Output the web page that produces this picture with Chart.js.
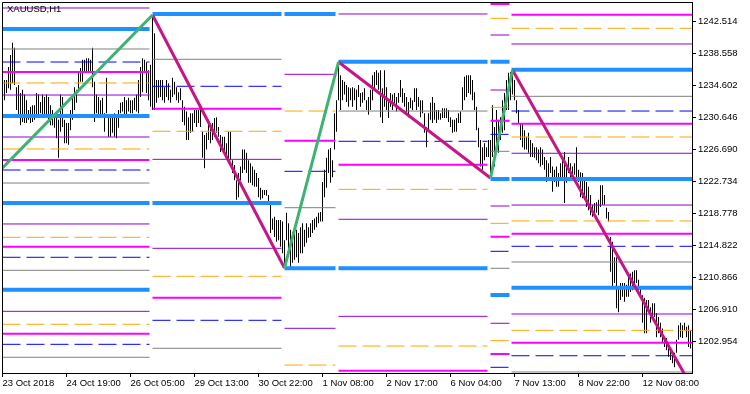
<!DOCTYPE html>
<html>
<head>
<meta charset="utf-8">
<script src="https://cdn.jsdelivr.net/npm/chart.js@4/dist/chart.umd.min.js"></script>
<style>
  html, body { margin: 0; padding: 0; background: #fff; }
</style>
</head>
<body>
<canvas id="chart" width="750" height="394"></canvas>
<script>
const symbol = "XAUUSD,H1";

// time axis: one H1 bar per index, a label every 32 bars
const tickIdx = [0, 32, 64, 96, 128, 160, 192, 224, 256, 288, 320];
const tickLabels = ["23 Oct 2018", "24 Oct 19:00", "26 Oct 05:00", "29 Oct 13:00", "30 Oct 22:00",
  "1 Nov 08:00", "2 Nov 17:00", "6 Nov 04:00", "7 Nov 13:00", "8 Nov 22:00", "12 Nov 08:00"];
const priceTicks = [1202.954, 1206.910, 1210.866, 1214.822, 1218.778, 1222.734,
  1226.690, 1230.646, 1234.602, 1238.558, 1242.514];

// bar highs / lows
const highs = [
  1234.9, 1235.3, 1235.3, 1236.9, 1238.4, 1239.9, 1239.3, 1234.4, 1234.7, 1233.7,
  1234.1, 1233.5, 1232.8, 1231.6, 1232.0, 1232.2, 1232.2, 1233.7, 1233.5, 1232.6,
  1233.5, 1233.2, 1233.5, 1233.2, 1232.2, 1231.6, 1231.2, 1230.7, 1230.4, 1233.5,
  1233.2, 1230.4, 1230.0, 1230.0, 1231.6, 1233.2, 1234.4, 1234.1, 1236.2, 1236.8,
  1237.8, 1237.8, 1238.0, 1238.0, 1237.8, 1239.3, 1235.1, 1233.5, 1233.2, 1232.8,
  1233.1, 1231.2, 1235.6, 1231.0, 1230.7, 1231.0, 1231.2, 1231.0, 1231.6, 1232.5,
  1232.6, 1233.2, 1232.8, 1233.1, 1232.8, 1232.8, 1233.1, 1233.5, 1235.3, 1236.9,
  1238.0, 1237.8, 1237.5, 1236.5, 1237.2, 1243.3, 1241.1, 1235.3, 1235.3, 1235.3,
  1235.3, 1234.4, 1235.3, 1234.9, 1234.1, 1235.6, 1235.1, 1234.4, 1233.8, 1234.3,
  1232.8, 1232.0, 1231.4, 1230.7, 1231.2, 1231.2, 1231.6, 1231.6, 1231.6, 1232.0,
  1228.9, 1228.5, 1228.8, 1230.4, 1229.5, 1230.0, 1230.6, 1230.7, 1229.5, 1228.5,
  1228.3, 1228.3, 1227.5, 1228.9, 1228.9, 1225.4, 1224.8, 1222.9, 1223.8, 1224.6,
  1226.7, 1226.7, 1226.3, 1225.4, 1225.0, 1224.6, 1224.2, 1223.8, 1223.2, 1222.0,
  1221.7, 1221.7, 1221.7, 1221.1, 1219.9, 1218.2, 1218.4, 1218.0, 1218.0, 1218.0,
  1217.8, 1215.5, 1218.9, 1217.6, 1216.8, 1216.5, 1217.0, 1216.8, 1216.4, 1217.1,
  1217.6, 1216.8, 1217.6, 1217.1, 1217.6, 1218.0, 1218.2, 1218.4, 1218.9, 1219.0,
  1222.7, 1224.2, 1225.7, 1226.7, 1226.9, 1225.4, 1231.2, 1232.8, 1237.5, 1235.9,
  1235.3, 1235.1, 1234.7, 1234.4, 1234.3, 1234.4, 1234.3, 1234.1, 1234.7, 1233.7,
  1233.8, 1234.3, 1232.8, 1233.2, 1234.1, 1235.9, 1236.3, 1236.5, 1236.2, 1236.5,
  1234.3, 1236.5, 1234.4, 1232.6, 1233.7, 1233.5, 1233.7, 1233.2, 1233.7, 1235.3,
  1234.3, 1233.7, 1233.2, 1232.6, 1233.1, 1232.8, 1234.3, 1234.3, 1233.2, 1232.8,
  1232.8, 1231.2, 1229.5, 1231.2, 1232.5, 1233.2, 1232.5, 1231.6, 1231.6, 1231.2,
  1231.8, 1231.8, 1231.8, 1231.6, 1230.7, 1230.4, 1230.4, 1230.6, 1231.2, 1231.4,
  1234.4, 1235.7, 1235.9, 1235.9, 1235.9, 1235.3, 1233.8, 1232.0, 1229.4, 1227.9,
  1227.0, 1227.5, 1227.0, 1227.9, 1227.9, 1232.2, 1229.5, 1231.6, 1230.4, 1230.7,
  1232.8, 1233.7, 1235.3, 1236.2, 1236.3, 1236.5, 1235.3, 1232.8, 1231.6, 1230.0,
  1230.0, 1229.1, 1228.3, 1228.8, 1227.9, 1227.5, 1227.0, 1227.0, 1226.7, 1227.0,
  1226.7, 1225.8, 1225.4, 1225.0, 1225.8, 1224.6, 1224.2, 1224.6, 1223.8, 1225.0,
  1225.4, 1226.4, 1225.0, 1225.8, 1225.0, 1224.6, 1225.0, 1227.0, 1224.2, 1223.9,
  1223.8, 1223.3, 1222.7, 1222.1, 1221.1, 1219.9, 1220.1, 1220.2, 1220.5, 1222.3,
  1222.3, 1221.1, 1219.5, 1219.0, 1215.9, 1215.3, 1213.4, 1213.4, 1209.7, 1210.2,
  1210.2, 1210.2, 1210.0, 1211.4, 1211.4, 1211.6, 1211.8, 1211.8, 1210.6, 1209.7,
  1208.7, 1208.4, 1208.1, 1208.1, 1207.2, 1207.7, 1207.7, 1206.5, 1206.0, 1205.3,
  1204.6, 1203.5, 1203.4, 1202.8, 1201.9, 1201.6, 1201.6, 1203.2, 1205.0, 1205.3,
  1205.0, 1205.3, 1204.8, 1205.0, 1204.4
];
const lows = [
  1232.0, 1232.8, 1233.7, 1234.3, 1234.1, 1234.9, 1234.7, 1231.6, 1231.0, 1229.7,
  1230.1, 1230.0, 1230.0, 1230.4, 1230.0, 1230.1, 1230.4, 1231.0, 1231.0, 1231.2,
  1231.0, 1231.0, 1231.0, 1230.0, 1229.7, 1229.7, 1229.4, 1228.1, 1225.7, 1228.9,
  1229.5, 1227.5, 1227.5, 1227.3, 1229.1, 1230.4, 1231.6, 1232.5, 1233.8, 1235.1,
  1235.1, 1236.3, 1236.3, 1236.2, 1236.3, 1234.4, 1230.1, 1231.2, 1230.7, 1231.0,
  1230.7, 1228.9, 1231.2, 1228.3, 1228.3, 1228.8, 1228.3, 1228.1, 1229.4, 1231.2,
  1231.4, 1230.7, 1231.0, 1231.4, 1231.2, 1231.2, 1231.6, 1231.4, 1231.2, 1233.2,
  1233.8, 1236.3, 1233.7, 1232.8, 1232.0, 1231.6, 1231.6, 1232.5, 1233.1, 1233.2,
  1232.8, 1232.5, 1233.2, 1232.8, 1232.5, 1233.2, 1233.5, 1232.8, 1232.5, 1232.8,
  1230.1, 1229.7, 1227.9, 1227.9, 1228.8, 1228.9, 1230.0, 1229.5, 1230.0, 1229.5,
  1225.7, 1224.4, 1226.7, 1227.9, 1227.5, 1227.9, 1228.3, 1228.8, 1228.3, 1226.4,
  1227.0, 1226.3, 1225.8, 1225.4, 1225.4, 1223.8, 1222.9, 1220.5, 1220.8, 1222.9,
  1223.8, 1224.2, 1223.8, 1222.6, 1222.6, 1222.3, 1222.1, 1222.1, 1220.8, 1220.5,
  1220.7, 1221.1, 1221.0, 1219.9, 1216.4, 1216.8, 1215.9, 1215.3, 1215.5, 1214.7,
  1213.9, 1212.1, 1215.5, 1214.0, 1212.2, 1212.7, 1213.1, 1213.4, 1212.7, 1213.9,
  1213.9, 1214.7, 1215.2, 1215.8, 1215.9, 1216.4, 1216.8, 1217.1, 1217.6, 1217.8,
  1217.8, 1220.8, 1222.0, 1223.8, 1222.6, 1223.3, 1226.7, 1228.9, 1232.8, 1231.6,
  1232.8, 1233.5, 1232.6, 1232.0, 1232.8, 1232.0, 1232.8, 1231.6, 1233.2, 1232.0,
  1232.5, 1232.8, 1231.6, 1231.0, 1231.6, 1232.8, 1234.1, 1234.7, 1234.1, 1230.7,
  1230.0, 1232.0, 1231.6, 1230.6, 1232.0, 1231.6, 1232.2, 1231.4, 1232.5, 1233.2,
  1232.5, 1232.0, 1231.2, 1230.7, 1231.8, 1231.6, 1232.6, 1231.6, 1232.0, 1230.7,
  1231.2, 1228.8, 1227.0, 1229.1, 1230.4, 1230.0, 1230.4, 1230.0, 1230.4, 1230.4,
  1230.6, 1230.6, 1230.6, 1230.1, 1229.5, 1228.8, 1228.9, 1228.9, 1230.0, 1230.0,
  1231.6, 1232.8, 1233.2, 1233.7, 1233.5, 1232.8, 1231.6, 1229.1, 1227.0, 1224.6,
  1224.2, 1225.4, 1225.8, 1225.8, 1223.2, 1225.8, 1224.6, 1227.0, 1226.3, 1227.9,
  1228.8, 1229.1, 1231.6, 1231.6, 1232.8, 1233.5, 1232.8, 1231.2, 1230.0, 1227.9,
  1227.0, 1226.7, 1226.7, 1226.3, 1225.8, 1225.8, 1225.7, 1225.4, 1225.0, 1224.6,
  1224.8, 1224.2, 1222.7, 1223.3, 1223.8, 1221.5, 1222.7, 1222.1, 1222.1, 1222.9,
  1223.3, 1220.1, 1222.6, 1223.8, 1223.3, 1222.9, 1223.6, 1223.2, 1222.7, 1220.8,
  1220.7, 1220.5, 1219.6, 1219.2, 1218.6, 1218.4, 1218.6, 1218.9, 1218.6, 1219.6,
  1219.9, 1219.9, 1218.2, 1217.8, 1211.6, 1209.7, 1210.2, 1207.1, 1206.6, 1208.1,
  1208.5, 1207.9, 1208.5, 1208.5, 1209.1, 1209.3, 1209.7, 1210.2, 1209.3, 1208.5,
  1205.3, 1204.0, 1204.0, 1206.5, 1205.3, 1206.0, 1206.0, 1203.5, 1204.0, 1203.5,
  1202.8, 1202.3, 1201.9, 1201.1, 1200.7, 1200.3, 1199.8, 1201.6, 1203.2, 1203.5,
  1203.4, 1204.4, 1203.5, 1202.3, 1202.1
];

// zigzag turning points (bar index, price)
const zzIdx = [0, 75, 141, 168, 244, 255, 345];
const zzPrice = [1224.43, 1243.34, 1212.07, 1237.53, 1223.19, 1236.54, 1197.2];

// level blocks: each zigzag leg draws its own set of levels
const segStart = [0, 75, 141, 168, 244, 254.5];
const segEnd = [73.5, 139.5, 166.5, 242.5, 253.5, 345];

// [block, price]
const blueLevels = [
  [0, 1241.61], [0, 1230.86], [0, 1220.10], [0, 1209.38],
  [1, 1243.47], [1, 1220.10],
  [2, 1243.47], [2, 1212.03],
  [3, 1237.57], [3, 1212.03],
  [4, 1237.57], [4, 1223.07], [4, 1208.73],
  [5, 1236.58], [5, 1223.07], [5, 1209.63]
];
const violetLevels = [
  [0, 1244.21], [0, 1233.45], [0, 1228.26], [0, 1217.51], [0, 1206.71],
  [1, 1225.50], [1, 1214.50],
  [2, 1236.01], [2, 1204.61],
  [3, 1243.47], [3, 1218.09], [3, 1206.09],
  [4, 1240.87], [4, 1234.07], [4, 1219.73], [4, 1205.23],
  [5, 1239.76], [5, 1226.25], [5, 1219.85], [5, 1206.38]
];
const orangeLevels = [
  [0, 1234.94], [0, 1226.78], [0, 1215.86], [0, 1205.11],
  [1, 1228.97], [1, 1211.04],
  [2, 1231.47], [2, 1200.07],
  [3, 1221.79], [3, 1202.42],
  [4, 1242.93], [4, 1231.93], [4, 1217.59], [4, 1203.08],
  [5, 1241.70], [5, 1228.26], [5, 1217.88], [5, 1204.36]
];
const magentaLevels = [
  [0, 1236.30], [0, 1225.42], [0, 1214.70], [0, 1203.94],
  [1, 1231.76], [1, 1208.39],
  [2, 1227.80],
  [3, 1224.84], [3, 1199.37],
  [4, 1244.70], [4, 1230.28], [4, 1215.93], [4, 1201.43],
  [5, 1243.38], [5, 1229.90], [5, 1216.31], [5, 1202.83]
];
const navyLevels = [
  [0, 1237.53], [0, 1224.18], [0, 1213.39], [0, 1202.63],
  [1, 1234.53], [1, 1205.60],
  [2, 1224.02],
  [3, 1227.73],
  [4, 1228.59], [4, 1214.13], [4, 1199.79],
  [5, 1231.47], [5, 1214.75], [5, 1201.22]
];
const grayLevels = [
  [0, 1239.14], [0, 1222.57], [0, 1211.78], [0, 1201.03],
  [1, 1237.87], [1, 1202.14],
  [2, 1219.52],
  [3, 1231.47],
  [4, 1226.49], [4, 1212.03],
  [5, 1233.29], [5, 1212.81], [5, 1199.21]
];

function levelData(levels) {
  const pts = [];
  levels.forEach(([s, p]) => {
    pts.push({ x: segStart[s], y: p }, { x: segEnd[s], y: p }, { x: segEnd[s], y: null });
  });
  return pts;
}

function legData(from) {
  const pts = [];
  for (let k = from; k < zzIdx.length - 1; k += 2) {
    pts.push({ x: zzIdx[k], y: zzPrice[k] }, { x: zzIdx[k + 1], y: zzPrice[k + 1] }, { x: zzIdx[k + 1], y: null });
  }
  return pts;
}

function levelSet(levels, color, width, dash) {
  return {
    type: "line",
    data: levelData(levels),
    borderColor: color,
    borderWidth: width,
    borderDash: dash || [],
    borderCapStyle: "butt",
    pointRadius: 0,
    spanGaps: false,
    clip: 0,
    order: 2
  };
}

const font = { family: "'Liberation Sans', Arial, sans-serif", size: 9.5 };

const frame = {
  id: "frame",
  afterDraw(chart) {
    const { ctx, chartArea: a } = chart;
    ctx.save();
    ctx.strokeStyle = "#000";
    ctx.lineWidth = 1;
    ctx.beginPath();
    ctx.moveTo(a.left + 0.5, a.bottom);
    ctx.lineTo(a.left + 0.5, a.top + 0.5);
    ctx.lineTo(a.right, a.top + 0.5);
    ctx.stroke();
    ctx.fillStyle = "#000";
    ctx.font = "9.5px " + font.family;
    ctx.textBaseline = "top";
    ctx.fillText(symbol, 7, 4.5);
    ctx.restore();
  }
};

const ctx = document.getElementById("chart").getContext("2d");
new Chart(ctx, {
  type: "line",
  data: {
    datasets: [
      {
        type: "line",
        data: legData(0),
        borderColor: "#3CB371",
        borderWidth: 3,
        pointRadius: 0,
        clip: 0,
        order: 0
      },
      {
        type: "line",
        data: legData(1),
        borderColor: "#C71585",
        borderWidth: 3,
        pointRadius: 0,
        clip: 0,
        order: 0
      },
      levelSet(blueLevels, "#1E90FF", 4),
      levelSet(magentaLevels, "#FF00FF", 2),
      levelSet(violetLevels, "#9400D3", 1),
      levelSet(orangeLevels, "#FFA500", 1, [18, 6]),
      levelSet(navyLevels, "#0000FF", 1, [18, 6]),
      levelSet(grayLevels, "#808080", 1),
      {
        type: "bar",
        data: highs.map((h, i) => ({ x: i, y: [lows[i], h] })),
        backgroundColor: "#000",
        borderWidth: 0,
        inflateAmount: 0,
        barThickness: 1,
        grouped: false,
        clip: 0,
        order: 5
      }
    ]
  },
  options: {
    responsive: false,
    animation: false,
    layout: { padding: { left: 2, top: 2, right: 0, bottom: 0 } },
    plugins: { legend: { display: false }, tooltip: { enabled: false }, title: { display: false } },
    scales: {
      x: {
        type: "linear",
        offset: false,
        min: -0.25,
        max: 344.75,
        afterBuildTicks: s => { s.ticks = tickIdx.map(v => ({ value: v })); },
        afterFit: s => { s.height = 21; s.paddingLeft = 0; s.paddingRight = 0; },
        grid: { display: true, offset: false, drawOnChartArea: false, tickLength: 4, color: "#000" },
        border: { display: true, color: "#000" },
        ticks: {
          autoSkip: false, maxRotation: 0, align: "start", padding: 1,
          color: "#000", font: font,
          callback: (v, i) => tickLabels[i]
        }
      },
      y: {
        type: "linear",
        position: "right",
        min: 1199.085,
        max: 1244.95,
        afterBuildTicks: s => { s.ticks = priceTicks.map(v => ({ value: v })); },
        afterFit: s => { s.width = 58; s.paddingTop = 0; s.paddingBottom = 0; },
        grid: { display: true, drawOnChartArea: false, tickLength: 4, color: "#000" },
        border: { display: true, color: "#000" },
        ticks: { padding: 2, color: "#000", font: font, callback: v => v.toFixed(3) }
      }
    }
  },
  plugins: [frame]
});
</script>
</body>
</html>
